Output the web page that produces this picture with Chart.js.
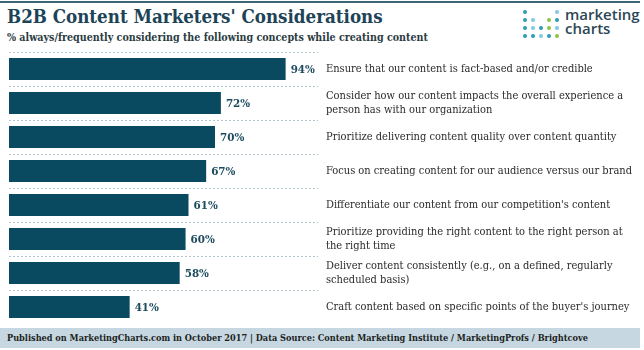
<!DOCTYPE html>
<html>
<head>
<meta charset="utf-8">
<script src="https://cdn.jsdelivr.net/npm/chart.js@4"></script>
<style>
  body { margin: 0; width: 644px; height: 350px; background: #fff; position: relative; overflow: hidden; font-family: "DejaVu Serif Condensed", "DejaVu Serif", serif; }
  .topline { position: absolute; left: 0; top: 1px; width: 640px; height: 2px; background: #3f6475; }
  .title { position: absolute; left: 7px; top: 6px; font-size: 18.6px; line-height: 22px; font-weight: bold; color: #1d4357; white-space: nowrap; }
  .subtitle { position: absolute; left: 7px; top: 31px; font-size: 10.6px; line-height: 13px; font-weight: bold; color: #2b3b42; white-space: nowrap; }
  .logo { position: absolute; left: 522px; top: 9px; width: 40px; height: 30px; }
  .logotext { position: absolute; left: 565px; top: 7px; font-family: "Open Sans", sans-serif; font-weight: 600; font-size: 15px; line-height: 14px; color: #2c4756; }
  .footer { position: absolute; left: 0; top: 328px; width: 640px; height: 20px; background: #c7d7e1; }
  .footer span { position: absolute; left: 7px; top: 4px; font-size: 9.1px; line-height: 12px; font-weight: bold; color: #1b1f22; white-space: nowrap; }
  #wrap { position: absolute; left: 0; top: 52px; width: 644px; height: 272px; }
</style>
</head>
<body>
<div class="topline"></div>
<div class="title">B2B Content Marketers' Considerations</div>
<div class="subtitle">% always/frequently considering the following concepts while creating content</div>
<svg class="logo" viewBox="0 0 40 30">
  <circle cx="3" cy="3" r="2" fill="#2b9bb3"/>
  <circle cx="35" cy="3" r="2" fill="#7ccbe0"/>
  <circle cx="3" cy="11" r="2" fill="#2b9bb3"/>
  <circle cx="11" cy="11" r="2" fill="#7ccbe0"/>
  <circle cx="27" cy="11" r="2" fill="#8cc63f"/>
  <circle cx="35" cy="11" r="2" fill="#2b9bb3"/>
  <circle cx="3" cy="19" r="2" fill="#2b9bb3"/>
  <circle cx="11" cy="19" r="2" fill="#7ccbe0"/>
  <circle cx="19" cy="19" r="2" fill="#2b9bb3"/>
  <circle cx="27" cy="19" r="2" fill="#8cc63f"/>
  <circle cx="35" cy="19" r="2" fill="#7ccbe0"/>
  <circle cx="3" cy="27" r="2" fill="#2b9bb3"/>
  <circle cx="11" cy="27" r="2" fill="#2b9bb3"/>
  <circle cx="19" cy="27" r="2" fill="#7ccbe0"/>
  <circle cx="27" cy="27" r="2" fill="#2b9bb3"/>
  <circle cx="35" cy="27" r="2" fill="#8cc63f"/>
</svg>
<div class="logotext">marketing<br>charts</div>
<div id="wrap"><canvas id="myChart"></canvas></div>
<div class="footer"><span>Published on MarketingCharts.com in October 2017 | Data Source: Content Marketing Institute / MarketingProfs / Brightcove</span></div>
<script>
const categories = [
    ['Ensure that our content is fact-based and/or credible'],
    ['Consider how our content impacts the overall experience a', 'person has with our organization'],
    ['Prioritize delivering content quality over content quantity'],
    ['Focus on creating content for our audience versus our brand'],
    ["Differentiate our content from our competition's content"],
    ['Prioritize providing the right content to the right person at', 'the right time'],
    ['Deliver content consistently (e.g., on a defined, regularly', 'scheduled basis)'],
    ["Craft content based on specific points of the buyer's journey"]
];
const values = [94, 72, 70, 67, 61, 60, 58, 41];

const slab = "'DejaVu Serif Condensed', 'DejaVu Serif', serif";

// value labels to the right of each bar
const valueLabels = {
    id: 'valueLabels',
    afterDatasetsDraw(chart) {
        const ctx = chart.ctx;
        const meta = chart.getDatasetMeta(0);
        ctx.save();
        ctx.font = "bold 11.5px " + slab;
        ctx.fillStyle = '#1c4a5e';
        ctx.textAlign = 'left';
        ctx.textBaseline = 'middle';
        meta.data.forEach(function(bar, i) {
            ctx.fillText(values[i] + '%', bar.x + 5, bar.y + 1);
        });
        ctx.restore();
    }
};

const ctx = document.getElementById('myChart').getContext('2d');
const myChart = new Chart(ctx, {
    type: 'bar',
    data: {
        labels: categories,
        datasets: [{
            data: values,
            backgroundColor: '#0a4a60',
            borderWidth: 0,
            barPercentage: 0.65,
            categoryPercentage: 1
        }]
    },
    options: {
        indexAxis: 'y',
        responsive: true,
        maintainAspectRatio: false,
        animation: false,
        layout: { padding: { left: 9, right: 0, top: 0, bottom: 0 } },
        plugins: { legend: { display: false }, tooltip: { enabled: false } },
        scales: {
            x: {
                display: false,
                min: 0,
                max: 105
            },
            y: {
                position: 'right',
                afterFit: function(scale) {
                    scale.width = 326;
                    scale.paddingTop = 0;
                    scale.paddingBottom = 0;
                },
                border: { display: false, dash: [2, 2] },
                grid: {
                    offset: true,
                    drawTicks: false,
                    color: '#b3c3cc',
                    lineWidth: 1
                },
                ticks: {
                    padding: 8,
                    crossAlign: 'near',
                    color: '#2a2a2a',
                    font: { family: slab, size: 11, lineHeight: 1.3 }
                }
            }
        }
    },
    plugins: [valueLabels]
});
</script>
</body>
</html>
